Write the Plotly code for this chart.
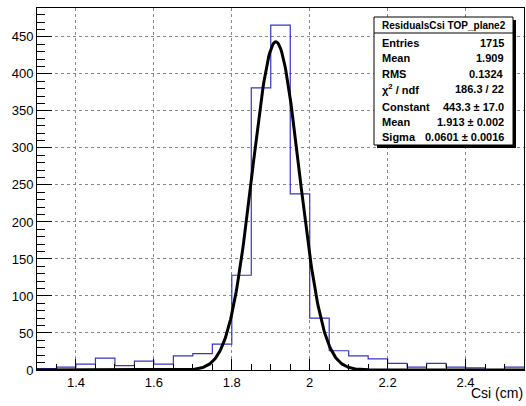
import numpy as np
import plotly.graph_objects as go

# ---- data ----
bin_edges = [1.30, 1.35, 1.40, 1.45, 1.50, 1.55, 1.60, 1.65, 1.70, 1.75, 1.80, 1.85, 1.90,
             1.95, 2.00, 2.05, 2.10, 2.15, 2.20, 2.25, 2.30, 2.35, 2.40, 2.45, 2.50, 2.55]
counts = [2, 4, 8, 16, 6, 12, 8, 19, 22, 35, 128, 381, 466, 238, 70, 26, 19, 15,
          9, 4, 9, 4, 3, 0, 4]

fit_constant = 443.3
fit_mean = 1.913
fit_sigma = 0.0601

x_tickvals = [1.4, 1.6, 1.8, 2.0, 2.2, 2.4]
x_ticktext = ["1.4", "1.6", "1.8", "2", "2.2", "2.4"]
y_tickvals = [0, 50, 100, 150, 200, 250, 300, 350, 400, 450]
y_ticktext = ["0", "50", "100", "150", "200", "250", "300", "350", "400", "450"]

stats_title = "ResidualsCsi TOP_plane2"
stats_labels = ["Entries", "Mean", "RMS", "χ<sup>2</sup> / ndf", "Constant", "Mean", "Sigma"]
stats_values = ["1715", "1.909", "0.1324", "186.3 / 22", "443.3 ± 17.0", "1.913 ± 0.002", "0.0601 ± 0.0016"]

x_range = [1.30, 2.55]
y_range = [0, 489]

# ---- figure ----
W, H = 526, 406
ML, MR, MT, MB = 37, 2, 8, 36
PW, PH = W - ML - MR, H - MT - MB

def px_x(p):
    return (p - ML) / PW

def px_y(q):
    return (H - MB - q) / PH

fig = go.Figure()

# histogram outline (step line through the bin edges)
step_y = counts + [counts[-1]]
fig.add_trace(go.Scatter(x=bin_edges, y=step_y, mode="lines",
                         line=dict(color="#3535c8", width=1.2, shape="hv"),
                         hoverinfo="skip", showlegend=False))

# gaussian fit curve
xf = np.linspace(x_range[0], x_range[1], 600)
yf = fit_constant * np.exp(-0.5 * ((xf - fit_mean) / fit_sigma) ** 2)
fig.add_trace(go.Scatter(x=xf, y=yf, mode="lines",
                         line=dict(color="black", width=3),
                         hoverinfo="skip", showlegend=False))

font_axis = dict(family="Liberation Sans, Arial, sans-serif", size=13, color="black")

fig.update_layout(
    width=W, height=H,
    margin=dict(l=ML, r=MR, t=MT, b=MB, pad=0),
    paper_bgcolor="white", plot_bgcolor="white",
    font=font_axis,
    xaxis=dict(range=x_range, tickmode="array", tickvals=x_tickvals, ticktext=x_ticktext,
               ticks="inside", ticklen=11, tickcolor="black", tickwidth=1,
               showline=True, linecolor="black", linewidth=1, mirror=True,
               showgrid=True, gridcolor="#888888", griddash="dot", gridwidth=1,
               zeroline=False, tickfont=font_axis,
               minor=dict(tickmode="linear", tick0=1.3, dtick=0.05, ticks="inside",
                          ticklen=6, tickcolor="black", showgrid=False)),
    yaxis=dict(range=y_range, tickmode="array", tickvals=y_tickvals, ticktext=y_ticktext,
               ticks="inside", ticklen=15, tickcolor="black", tickwidth=1,
               showline=True, linecolor="black", linewidth=1, mirror=True,
               showgrid=True, gridcolor="#888888", griddash="dot", gridwidth=1,
               zeroline=False, tickfont=font_axis,
               minor=dict(tickmode="linear", tick0=0, dtick=10, ticks="inside",
                          ticklen=8, tickcolor="black", showgrid=False)),
)

# x axis title
fig.add_annotation(text="Csi (cm)", xref="paper", yref="paper",
                   x=px_x(525), y=px_y(393), xanchor="right", yanchor="middle",
                   showarrow=False, font=dict(family="Liberation Sans, Arial, sans-serif",
                                              size=14, color="black"))

# ---- stats box ----
bx0, bx1, by0, by1 = 374, 513, 17, 145
shadow = 3
fig.add_shape(type="rect", xref="paper", yref="paper",
              x0=px_x(bx0 + shadow), x1=px_x(bx1 + shadow),
              y0=px_y(by1 + shadow), y1=px_y(by0 + shadow),
              line=dict(width=0), fillcolor="black", layer="above")
fig.add_shape(type="rect", xref="paper", yref="paper",
              x0=px_x(bx0), x1=px_x(bx1), y0=px_y(by1), y1=px_y(by0),
              line=dict(color="black", width=1), fillcolor="white", layer="above")
fig.add_shape(type="line", xref="paper", yref="paper",
              x0=px_x(bx0), x1=px_x(bx1), y0=px_y(33), y1=px_y(33),
              line=dict(color="black", width=1), layer="above")

sfont = dict(family="Liberation Sans, Arial, sans-serif", size=11, color="black")
tfont = dict(family="Liberation Sans, Arial, sans-serif", size=10, color="black")
fig.add_annotation(text="<b>" + stats_title + "</b>", xref="paper", yref="paper",
                   x=px_x((bx0 + bx1) / 2), y=px_y(25), xanchor="center", yanchor="middle",
                   showarrow=False, font=tfont)
row_y = [42.7, 58.3, 73.5, 89.3, 106.5, 122.0, 137.3]
for lab, val, ry in zip(stats_labels, stats_values, row_y):
    fig.add_annotation(text="<b>" + lab + "</b>", xref="paper", yref="paper",
                       x=px_x(380), y=px_y(ry), xanchor="left", yanchor="middle",
                       showarrow=False, font=sfont)
    fig.add_annotation(text="<b>" + val + "</b>", xref="paper", yref="paper",
                       x=px_x(506), y=px_y(ry), xanchor="right", yanchor="middle",
                       showarrow=False, font=sfont)

fig.write_html("out.html", config={"displayModeBar": False},
               post_script="document.body.style.margin='0px';document.body.style.overflow='hidden';")
